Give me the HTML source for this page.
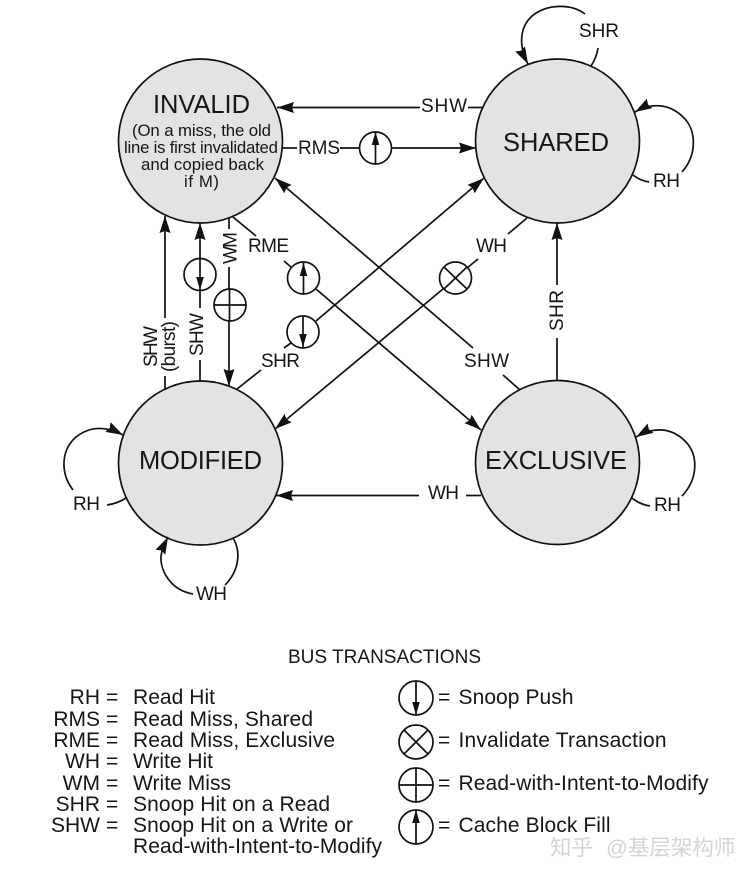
<!DOCTYPE html>
<html>
<head>
<meta charset="utf-8">
<style>
html,body{margin:0;padding:0;background:#fff;width:754px;height:878px;overflow:hidden}
svg{display:block}
text{font-family:"Liberation Sans",Arial,sans-serif;fill:#161616;font-size:19px}
.s{font-size:25.5px}
.m{font-size:16.8px}
.l{font-size:21px}
.w{font-family:"Liberation Sans","Noto Sans CJK SC",sans-serif;font-size:21.5px;fill:#d4d4d4}
.big{fill:#e3e3e3;stroke:#111;stroke-width:1.7}
.sm{fill:#fff;stroke:#111;stroke-width:1.7}
path,line{fill:none;stroke:#111;stroke-width:1.7}
.a{marker-end:url(#ah)}
.b{marker-end:url(#as)}
</style>
</head>
<body>
<svg width="754" height="878" viewBox="0 0 754 878" xmlns="http://www.w3.org/2000/svg">
<defs>
<marker id="ah" markerUnits="userSpaceOnUse" markerWidth="18" markerHeight="14" refX="17" refY="6" orient="auto"><polygon points="0,0.5 17,6 0,11.5 2,6" fill="#111"/></marker>
<marker id="as" markerUnits="userSpaceOnUse" markerWidth="14" markerHeight="12" refX="13" refY="5" orient="auto"><polygon points="0,1.2 13,5 0,8.8" fill="#111"/></marker>
</defs>

<circle class="big" cx="200.5" cy="141" r="82"/>
<circle class="big" cx="557.5" cy="141" r="82"/>
<circle class="big" cx="200.5" cy="463" r="82"/>
<circle class="big" cx="557.5" cy="462.5" r="82"/>

<!-- horizontal -->
<line class="a" x1="420" y1="107.5" x2="277" y2="107.5"/>
<line x1="468" y1="107.5" x2="483" y2="107.5"/>
<line x1="283" y1="148" x2="297" y2="148"/>
<line x1="340" y1="148" x2="360" y2="148"/>
<line class="a" x1="391" y1="148" x2="476" y2="148"/>
<line class="a" x1="419" y1="495.5" x2="276" y2="495.5"/>
<line x1="466" y1="495.5" x2="481" y2="495.5"/>
<circle class="sm" cx="375.5" cy="148" r="16"/>
<line class="b" x1="375.5" y1="164" x2="375.5" y2="132"/>

<!-- diagonals -->
<line class="a" x1="473" y1="348" x2="275" y2="178"/>
<line x1="503" y1="375" x2="520" y2="390"/>
<line x1="233" y1="217" x2="256" y2="236"/>
<line x1="284" y1="261" x2="291" y2="267"/>
<line class="a" x1="316" y1="289" x2="481" y2="430"/>
<line x1="237" y1="389" x2="261" y2="370"/>
<line x1="284" y1="348" x2="291" y2="343"/>
<line class="a" x1="316" y1="321" x2="484" y2="178"/>
<line class="a" x1="443" y1="289" x2="275" y2="429"/>
<line x1="467" y1="268" x2="478" y2="259"/>
<line x1="508" y1="234" x2="527" y2="218"/>

<circle class="sm" cx="303.5" cy="278" r="16"/>
<line class="b" x1="303.5" y1="293" x2="303.5" y2="263"/>
<circle class="sm" cx="303" cy="332" r="16"/>
<line class="b" x1="303" y1="317" x2="303" y2="347"/>
<circle class="sm" cx="455.5" cy="278" r="16"/>
<line x1="444" y1="267" x2="467" y2="289"/>
<line x1="444" y1="289" x2="467" y2="267"/>

<!-- verticals -->
<line class="a" x1="165" y1="318" x2="165" y2="216"/>
<line x1="165" y1="376" x2="165" y2="390"/>
<line class="a" x1="200" y1="258" x2="200" y2="223"/>
<line x1="200" y1="290" x2="200" y2="308"/>
<line x1="200" y1="360" x2="200" y2="381"/>
<circle class="sm" cx="200" cy="274.5" r="16"/>
<line class="b" x1="200" y1="258" x2="200" y2="290"/>
<line x1="229" y1="218" x2="229" y2="229"/>
<line class="a" x1="229" y1="267" x2="229" y2="386"/>
<circle class="sm" cx="230" cy="305" r="16"/>
<line x1="214" y1="305" x2="246" y2="305"/>
<line x1="229.5" y1="289" x2="229.5" y2="321"/>
<line class="a" x1="557" y1="285" x2="557" y2="223"/>
<line x1="557" y1="338" x2="557" y2="381"/>

<!-- loops -->
<path class="a" d="M585,14 C572,4 548,3 532,16 C520,27 518,45 528,64"/>
<path d="M598,48 C597,55 595,60 591,66"/>
<path class="a" d="M682,172 C697,155 697,130 683,117 C670,104 652,102 635,112"/>
<path d="M633,175 C638,179 643,181 649,182"/>
<path class="a" d="M682,496 C698,479 699,455 685,441 C672,428 654,426 636,437"/>
<path d="M632,498 C637,502 643,505 650,506"/>
<path class="a" d="M73,490 C60,473 61,450 76,437 C90,426 106,426 123,435"/>
<path d="M107,505 C114,504 120,502 126,498"/>
<path class="a" d="M193,594 C170,590 160,570 161,556 C162,548 165,543 168,537"/>
<path d="M233,538 C242,553 238,572 225,585"/>

<!-- state labels -->
<text class="s" x="153" y="113" textLength="97">INVALID</text>
<text class="s" x="503" y="151" textLength="106">SHARED</text>
<text class="s" x="139" y="469" textLength="123">MODIFIED</text>
<text class="s" x="485" y="469" textLength="142">EXCLUSIVE</text>
<text class="m" x="132" y="136" textLength="139">(On a miss, the old</text>
<text class="m" x="124" y="153" textLength="154">line is first invalidated</text>
<text class="m" x="141" y="170" textLength="123">and copied back</text>
<text class="m" x="184" y="187" textLength="35">if M)</text>

<!-- edge labels -->
<text x="421" y="112" textLength="46">SHW</text>
<text x="298" y="154" textLength="42">RMS</text>
<text x="579" y="37" textLength="40">SHR</text>
<text x="653" y="187" textLength="27">RH</text>
<text x="248" y="252" textLength="41">RME</text>
<text x="261" y="367" textLength="39">SHR</text>
<text x="476" y="252" textLength="31">WH</text>
<text x="464" y="367" textLength="45">SHW</text>
<text x="428" y="499" textLength="31">WH</text>
<text x="654" y="511" textLength="27">RH</text>
<text x="73" y="510" textLength="27">RH</text>
<text x="196" y="600" textLength="31">WH</text>
<text transform="translate(157,367) rotate(-90)" textLength="41">SHW</text>
<text transform="translate(175,372) rotate(-90)" textLength="51">(burst)</text>
<text transform="translate(203,356) rotate(-90)" textLength="43">SHW</text>
<text transform="translate(236.5,264) rotate(-90)" textLength="32">WM</text>
<text transform="translate(563,331) rotate(-90)" textLength="41">SHR</text>

<!-- legend -->
<text x="288" y="663" textLength="193">BUS TRANSACTIONS</text>
<text class="l" x="100" y="704" text-anchor="end">RH</text>
<text class="l" x="100" y="726" text-anchor="end">RMS</text>
<text class="l" x="100" y="747" text-anchor="end">RME</text>
<text class="l" x="100" y="768" text-anchor="end">WH</text>
<text class="l" x="100" y="790" text-anchor="end">WM</text>
<text class="l" x="100" y="811" text-anchor="end">SHR</text>
<text class="l" x="100" y="832" text-anchor="end">SHW</text>
<text class="l" x="106" y="704">=</text>
<text class="l" x="106" y="726">=</text>
<text class="l" x="106" y="747">=</text>
<text class="l" x="106" y="768">=</text>
<text class="l" x="106" y="790">=</text>
<text class="l" x="106" y="811">=</text>
<text class="l" x="106" y="832">=</text>
<text class="l" x="133" y="704" textLength="82">Read Hit</text>
<text class="l" x="133" y="726" textLength="180">Read Miss, Shared</text>
<text class="l" x="133" y="747" textLength="202">Read Miss, Exclusive</text>
<text class="l" x="133" y="768" textLength="80">Write Hit</text>
<text class="l" x="133" y="790" textLength="98">Write Miss</text>
<text class="l" x="133" y="811" textLength="197">Snoop Hit on a Read</text>
<text class="l" x="133" y="832" textLength="220">Snoop Hit on a Write or</text>
<text class="l" x="133" y="853" textLength="249">Read-with-Intent-to-Modify</text>

<circle class="sm" cx="416" cy="698" r="17"/>
<line class="b" x1="416" y1="681" x2="416" y2="715"/>
<circle class="sm" cx="416" cy="742" r="17"/>
<line x1="404" y1="730" x2="428" y2="754"/>
<line x1="404" y1="754" x2="428" y2="730"/>
<circle class="sm" cx="416" cy="785" r="17"/>
<line x1="399" y1="785" x2="433" y2="785"/>
<line x1="416" y1="768" x2="416" y2="802"/>
<circle class="sm" cx="416" cy="827" r="17"/>
<line class="b" x1="416" y1="844" x2="416" y2="810"/>

<text class="l" x="438" y="704">=</text>
<text class="l" x="438" y="747">=</text>
<text class="l" x="438" y="790">=</text>
<text class="l" x="438" y="832">=</text>
<text class="l" x="458.5" y="704" textLength="115">Snoop Push</text>
<text class="l" x="458.5" y="747" textLength="208">Invalidate Transaction</text>
<text class="l" x="458.5" y="790" textLength="250">Read-with-Intent-to-Modify</text>
<text class="l" x="458.5" y="832" textLength="152">Cache Block Fill</text>

<!-- watermark -->
<text class="w" x="550" y="855">知乎</text>
<text class="w" x="606" y="855">@基层架构师</text>
</svg>
</body>
</html>
